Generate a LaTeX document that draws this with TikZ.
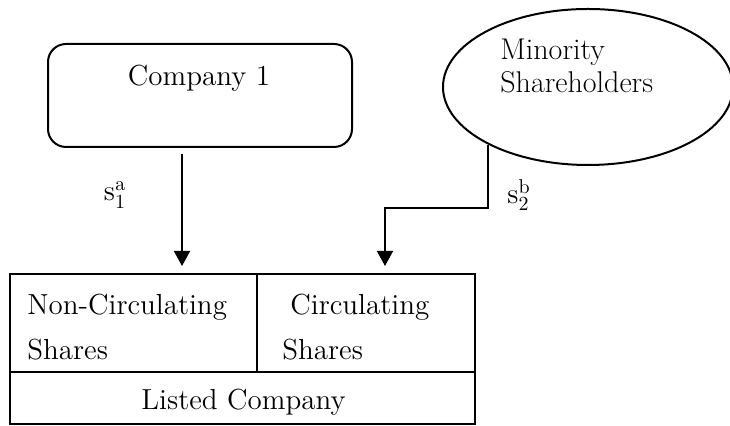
\documentclass[tikz,border=0pt]{standalone}
\usepackage{amsmath}
\usepackage{tikz}
\usetikzlibrary{shapes,arrows.meta,positioning,calc}

\begin{document}
\begin{tikzpicture}[
    x=0.5pt, y=-0.5pt,
    font=\fontsize{14.5}{16}\selectfont,
    holder/.style={rectangle, draw, line width=1pt, rounded corners=9pt, minimum width=152pt, minimum height=51.5pt},
    crowd/.style={ellipse, draw, line width=1pt, minimum width=145pt, minimum height=78pt},
    cell/.style={rectangle, draw, line width=1pt, inner sep=0pt},
    word/.style={inner sep=0pt, align=left},
    arrow/.style={-{Triangle[width=8pt,length=7.5pt]}, line width=0.8pt, shorten >=3.5pt},
]
    \useasboundingbox (0,0) rectangle (730,426);
    % Company 1
    \node[holder] (comp) at (200,95.5) {};
    \node[word] (comptext) at (199,78) {Company 1};
    % Minority shareholders
    \node[crowd] (crowd) at (588,87) {};
    \node[word, anchor=base west, font=\fontsize{15}{16.5}\selectfont] (crowdtext) at (500,93) {Minority\\Shareholders};
    % Listed company
    \node[cell, minimum width=123.5pt, minimum height=49pt] (noncirc) at (133.5,323) {};
    \node[cell, minimum width=109pt, minimum height=49pt] (circ) at (366,323) {};
    \node[cell, minimum width=232.5pt, minimum height=26pt] (listed) at (242.5,398) {};
    \node[word, anchor=base west, font=\fontsize{14.5}{22.5}\selectfont] (nctext) at (27,360) {Non-Circulating\\Shares};
    \node[word, anchor=base west, font=\fontsize{14.5}{22.5}\selectfont] (ctext) at (282,360) {\hspace{4pt}Circulating\\Shares};
    \node[word, anchor=base] (listedtext) at (243.5,410) {Listed Company};

    % Share flows
    \coordinate (a1) at (182,154);
    \coordinate (knee) at (385,208);
    \draw[arrow] (a1) -- (a1 |- noncirc.north);
    \draw[arrow] (crowd.210) |- (knee) -- (knee |- circ.north);
    \node[word] (sa) at (115,195) {$\mathrm{s}_1^{\mathrm{a}}$};
    \node[word] (sb) at (519,195) {$\mathrm{s}_2^{\mathrm{b}}$};
\end{tikzpicture}
\end{document}
